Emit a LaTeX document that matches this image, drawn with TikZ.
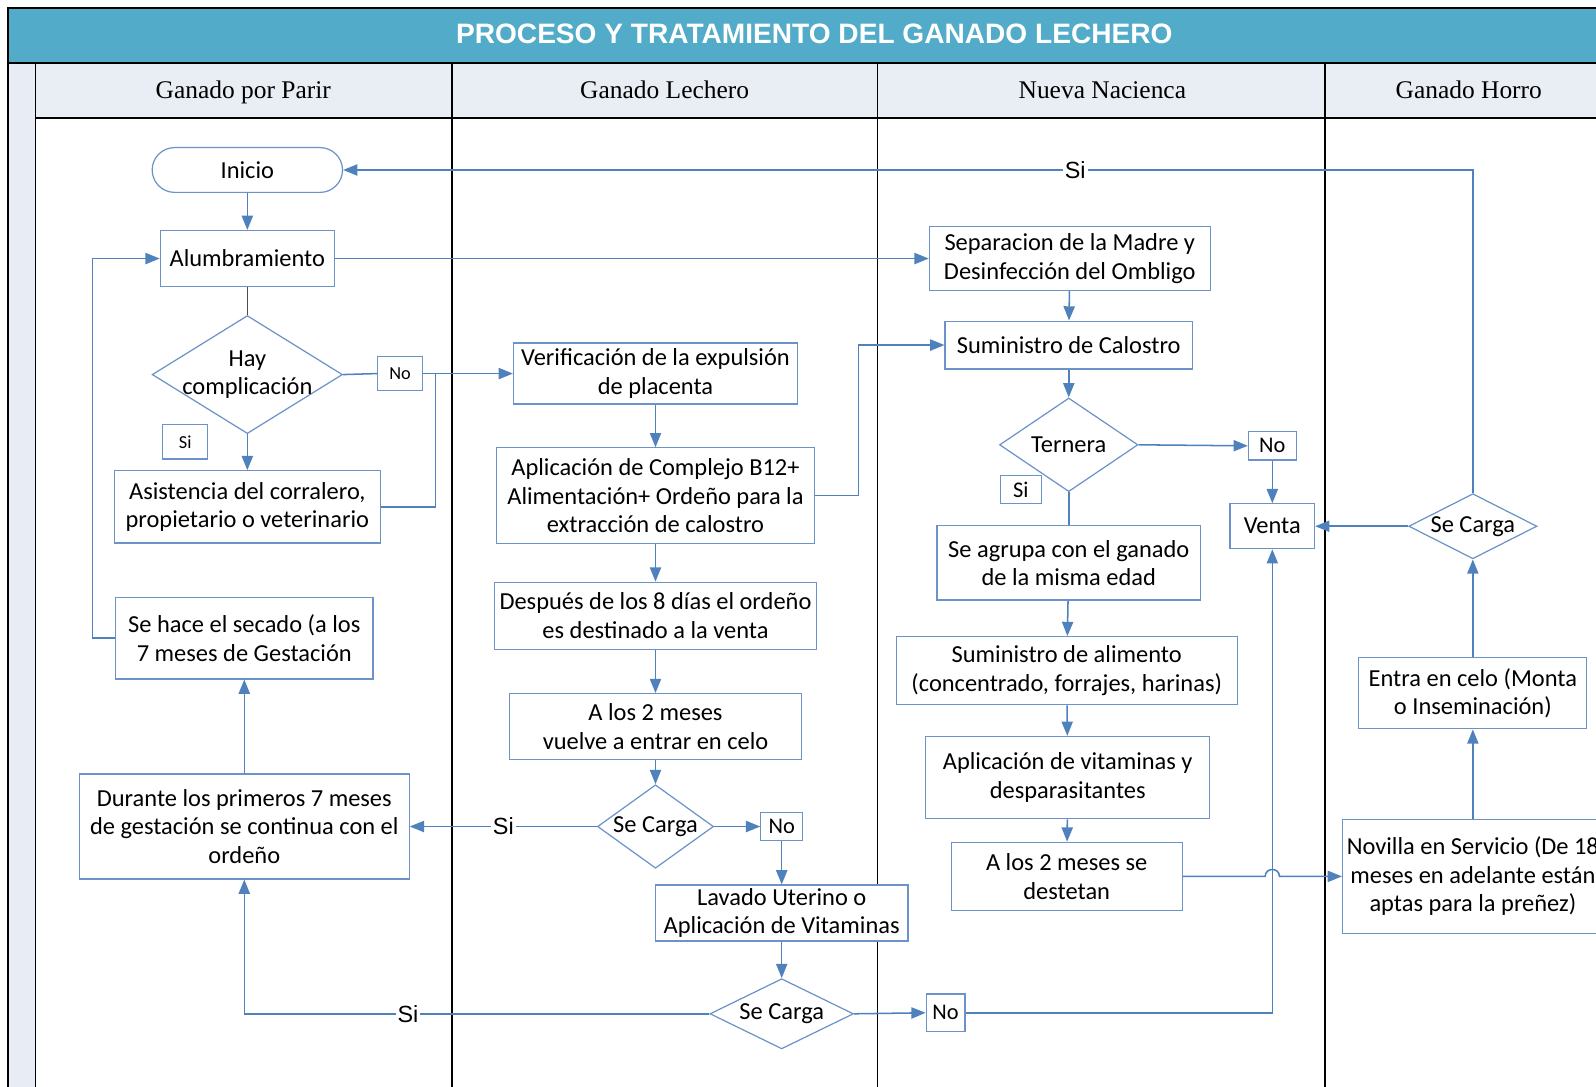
\documentclass[tikz,border=0pt]{standalone}
\usepackage{fontspec}
\setmainfont{Carlito}
\newfontfamily\lanefont{Liberation Serif}
\newfontfamily\arialfont{Liberation Sans}
\usepackage{tikz}
\usetikzlibrary{shapes.geometric,arrows.meta,positioning}
\definecolor{flow}{HTML}{4F81BD}
\definecolor{boxline}{HTML}{6C93C9}
\definecolor{titlebg}{HTML}{52ABC8}
\definecolor{headbg}{HTML}{E9EDF4}
\definecolor{stripbg}{HTML}{E7ECF5}

\begin{document}
\begin{tikzpicture}[
  x=0.5pt, y=-0.5pt,
  font=\fontsize{12}{14}\selectfont,
  proc/.style={rectangle, draw=boxline, line width=0.6pt, fill=white, align=center, inner sep=0pt},
  term/.style={proc, rounded corners=11pt},
  dec/.style={diamond, draw=boxline, line width=0.6pt, fill=white, inner sep=0pt},
  tag/.style={proc, font=\fontsize{11}{12}\selectfont},
  smalltag/.style={proc, font=\fontsize{9}{10}\selectfont},
  arr/.style={-{Triangle[length=7pt,width=5.5pt]}, flow, line width=0.75pt},
  lnk/.style={flow, line width=0.75pt},
  yes/.style={fill=white, text=black, inner sep=1pt, font=\arialfont\fontsize{11.5}{12}\selectfont},
  lanehead/.style={anchor=base, font=\lanefont\fontsize{12.5}{14}\selectfont}
]
\clip (0,0) rectangle (1568,1067);
% lanes
\fill[titlebg] (8,8) rectangle (1600,62);
\fill[stripbg] (8,62) rectangle (35,1100);
\fill[headbg] (35,62) rectangle (1600,116);
\draw[line width=1pt] (8,1100) -- (8,8) -- (1600,8);
\draw[line width=1pt] (8,62) -- (1600,62);
\draw[line width=0.8pt] (35,116) -- (1600,116);
\foreach \x in {35,444,862,1302}
  \draw[line width=0.8pt] (\x,62) -- (\x,1100);
\node[font=\arialfont\bfseries\fontsize{13.8}{15}\selectfont, text=white] (title) at (800,33) {PROCESO Y TRATAMIENTO DEL GANADO LECHERO};
\node[lanehead] (hparir) at (239,97) {Ganado por Parir};
\node[lanehead] (hleche) at (653,97) {Ganado Lechero};
\node[lanehead] (hnueva) at (1083,97) {Nueva Nacienca};
\node[lanehead] (hhorro) at (1443,97) {Ganado Horro};

% ganado por parir
\node[term, minimum width=93.5pt, minimum height=22pt] (inicio) at (243,167) {Inicio};
\node[proc, minimum width=85.5pt, minimum height=27.5pt] (alum) at (243,254) {Alumbramiento};
\node[dec, minimum width=93.5pt, minimum height=58pt, label={[align=center]center:Hay\\complicación}] (hay) at (243,368) {};
\node[smalltag, minimum width=22pt, minimum height=16.5pt] (no1) at (393,367) {No};
\node[smalltag, minimum width=22pt, minimum height=17pt] (si1) at (182,434) {Si};
\node[proc, minimum width=130.5pt, minimum height=35.5pt] (asist) at (243,498) {Asistencia del corralero,\\propietario o veterinario};
\node[proc, minimum width=126.5pt, minimum height=40pt] (secado) at (240,627) {Se hace el secado (a los\\7 meses de Gestación};
\node[proc, minimum width=162pt, minimum height=51.5pt] (durante) at (240,812) {Durante los primeros 7 meses\\de gestación se continua con el\\ordeño};

% ganado lechero
\node[proc, minimum width=139.5pt, minimum height=30pt] (verif) at (644,367) {Verificación de la expulsión\\de placenta};
\node[proc, minimum width=156pt, minimum height=47pt] (compl) at (644,487) {Aplicación de Complejo B12+\\Alimentación+ Ordeño para la\\extracción de calostro};
\node[proc, minimum width=158.5pt, minimum height=33pt] (despues) at (644,605) {Después de los 8 días el ordeño\\es destinado a la venta};
\node[proc, minimum width=143.5pt, minimum height=32.5pt] (celo2) at (644,714) {A los 2 meses\\vuelve a entrar en celo};
\node[dec, minimum width=57pt, minimum height=41pt, label={center:Se Carga}] (carga1) at (644,812) {};
\node[tag, minimum width=20.5pt, minimum height=13.5pt] (no2) at (768,812) {No};
\node[proc, minimum width=124pt, minimum height=27.5pt] (lavado) at (768,897) {Lavado Uterino o\\Aplicación de Vitaminas};
\node[dec, minimum width=70.5pt, minimum height=34.5pt, label={center:Se Carga}] (carga2) at (768,996) {};
\node[tag, minimum width=19pt, minimum height=18.5pt] (no3) at (929,995) {No};

% nueva nacienca
\node[proc, minimum width=138pt, minimum height=31.5pt] (separa) at (1051,254) {Separacion de la Madre y\\Desinfección del Ombligo};
\node[proc, minimum width=121.5pt, minimum height=23.5pt] (calostro) at (1050,339) {Suministro de Calostro};
\node[dec, minimum width=68pt, minimum height=46pt, label={center:Ternera}] (ternera) at (1050,437) {};
\node[tag, minimum width=23.5pt, minimum height=14pt] (no4) at (1250,438) {No};
\node[tag, minimum width=20pt, minimum height=13.5pt] (si3) at (1003,481) {Si};
\node[proc, minimum width=129.5pt, minimum height=36.5pt] (agrupa) at (1050,553) {Se agrupa con el ganado\\de la misma edad};
\node[proc, minimum width=167.5pt, minimum height=33.5pt] (alimento) at (1048,659) {Suministro de alimento\\(concentrado, forrajes, harinas)};
\node[proc, minimum width=139.5pt, minimum height=40.5pt] (vitam) at (1049,764) {Aplicación de vitaminas y\\desparasitantes};
\node[proc, minimum width=113.5pt, minimum height=33.5pt] (destete) at (1048,861) {A los 2 meses se\\destetan};
\node[proc, minimum width=41.5pt, minimum height=22pt] (venta) at (1250,517) {Venta};

% ganado horro
\node[dec, minimum width=63pt, minimum height=32pt, label={center:Se Carga}] (carga3) at (1447,517) {};
\node[proc, minimum width=112pt, minimum height=35pt] (celo) at (1447,681) {Entra en celo (Monta\\o Inseminación)};
\node[proc, minimum width=128pt, minimum height=56pt] (novilla) at (1447,861) {Novilla en Servicio (De 18\\meses en adelante están\\aptas para la preñez)};

% arrows
\coordinate (jn) at (428,367);
\draw[arr] (inicio) -- (alum);
\draw[black!70, line width=0.75pt] (alum) -- (hay);
\draw[arr] (alum) -- (separa);
\draw[lnk] (hay.east) -- (no1.west);
\draw[arr] (no1) -- (verif);
\draw[lnk] (asist.east) -| (jn);
\draw[arr] (hay) -- (asist);
\draw[arr] (secado.west) -- ++(-22,0) |- (alum.west);
\draw[arr] (durante) -- (secado);
\draw[arr] (verif) -- (compl);
\draw[arr] (compl.east) -- ++(43,0) |- (calostro.west);
\draw[arr] (compl) -- (despues);
\draw[arr] (despues) -- (celo2);
\draw[arr] (celo2) -- (carga1);
\draw[arr] (carga1.west) -- node[yes] (s2) {Si} (durante.east);
\draw[arr] (carga1.east) -- (no2.west);
\draw[arr] (no2) -- (lavado);
\draw[arr] (lavado) -- (carga2);
\draw[arr] (carga2.west) -| node[yes, pos=0.324] (s3) {Si} (durante.south);
\draw[arr] (carga2.east) -- (no3.west);
\draw[arr] (no3.east) -| (venta.south);
\draw[arr] (separa) -- (calostro);
\draw[arr] (calostro) -- (ternera);
\draw[arr] (ternera.east) -- (no4.west);
\draw[arr] (no4) -- (venta);
\draw[lnk] (ternera) -- (agrupa);
\draw[arr] (agrupa) -- (alimento);
\draw[arr] (alimento) -- (vitam);
\draw[arr] (vitam) -- (destete);
\draw[arr] (destete.east) -- (1243,861) .. controls (1243,852) and (1257,852) .. (1257,861) -- (novilla.west);
\draw[arr] (novilla) -- (celo);
\draw[arr] (celo) -- (carga3);
\draw[arr] (carga3.west) -- (venta.east);
\draw[arr] (carga3.north) |- node[yes, pos=0.676] (s1) {Si} (inicio.east);
\end{tikzpicture}
\end{document}
